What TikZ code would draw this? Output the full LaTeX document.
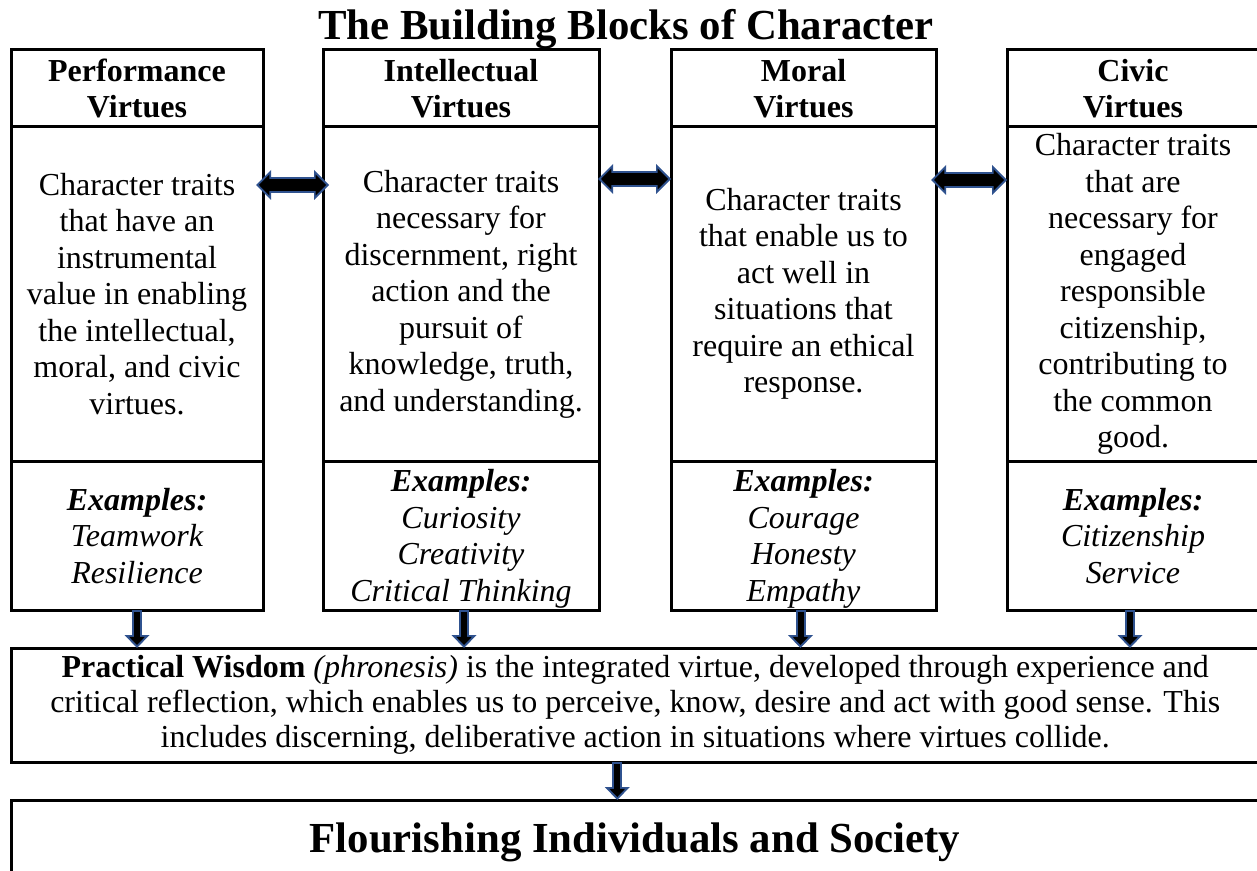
\documentclass[tikz,border=0pt]{standalone}
\usepackage{fontspec}
\setmainfont{Liberation Serif}
\usetikzlibrary{positioning,arrows.meta}
\definecolor{arrowblue}{RGB}{47,82,143}

\begin{document}
\begin{tikzpicture}
  [x=0.5pt,y=-0.5pt,
   every node/.style={inner sep=0pt,outer sep=0pt,align=center,font=\fontsize{16}{18.25}\selectfont},
   cell/.style={draw,line width=1.5pt,minimum width=#1},
   virtuehead/.style={font=\fontsize{16}{18.25}\selectfont\bfseries,minimum height=38.5pt},
   virtuetext/.style={minimum height=167pt},
   virtueex/.style={font=\fontsize{16}{18.25}\selectfont\itshape,minimum height=74.5pt,text depth=0pt},
   dblarrow/.style={draw=black,line width=6pt,shorten <=1.5pt,shorten >=1.5pt,
     {Triangle[width=10.5pt,length=5.2pt,line width=0pt]}-{Triangle[width=10.5pt,length=5.2pt,line width=0pt]},
     preaction={draw=arrowblue,line width=8pt,shorten <=0pt,shorten >=0pt,
       {Triangle[width=15pt,length=7.5pt,line width=0pt]}-{Triangle[width=15pt,length=7.5pt,line width=0pt]}}},
   downarrow/.style={draw=black,line width=3pt,shorten <=1pt,shorten >=1.5pt,
     -{Triangle[width=7.8pt,length=4.05pt,line width=0pt]},
     preaction={draw=arrowblue,line width=5pt,shorten <=0pt,shorten >=0pt,
       -{Triangle[width=12.5pt,length=6.5pt,line width=0pt]}}}]

  \path[use as bounding box,clip] (0,0) rectangle (1257,871);

  \node[font=\fontsize{21.4}{26}\selectfont\bfseries,anchor=base] (title) at (626,40) {The Building Blocks of Character};

  \node[cell=126pt,virtuehead,anchor=north west] (h1) at (11,50) {Performance\\Virtues};
  \node[cell=126pt,virtuetext,below=0pt of h1] (t1) {Character traits\\that have an\\instrumental\\value in enabling\\the intellectual,\\moral, and civic\\virtues.};
  \node[cell=126pt,virtueex,below=0pt of t1] (e1) {\textbf{Examples:}\\Teamwork\\Resilience};

  \node[cell=138pt,virtuehead,anchor=north west] (h2) at (323,50) {Intellectual\\Virtues};
  \node[cell=138pt,virtuetext,below=0pt of h2] (t2) {Character traits\\necessary for\\discernment, right\\action and the\\pursuit of\\knowledge, truth,\\and understanding.};
  \node[cell=138pt,virtueex,below=0pt of t2] (e2) {\textbf{Examples:}\\Curiosity\\Creativity\\Critical Thinking};

  \node[cell=132.5pt,virtuehead,anchor=north west] (h3) at (671,50) {Moral\\Virtues};
  \node[cell=132.5pt,virtuetext,below=0pt of h3] (t3) {Character traits\\that enable us to\\act well in\\situations that\\require an ethical\\response.};
  \node[cell=132.5pt,virtueex,below=0pt of t3] (e3) {\textbf{Examples:}\\Courage\\Honesty\\Empathy};

  \node[cell=126pt,virtuehead,anchor=north west] (h4) at (1007,50) {Civic\\Virtues};
  \node[cell=126pt,virtuetext,below=0pt of h4] (t4) {Character traits\\that are\\necessary for\\engaged\\responsible\\citizenship,\\contributing to\\the common\\good.};
  \node[cell=126pt,virtueex,below=0pt of t4] (e4) {\textbf{Examples:}\\Citizenship\\Service};

  \node[cell=624.25pt,minimum height=57pt,anchor=north west,font=\fontsize{16}{17.5}\selectfont] (pw) at (11,648) {\textbf{Practical Wisdom} \textit{(phronesis)} is the integrated virtue, developed through experience and\\critical reflection, which enables us to perceive, know, desire and act with good sense. This\\includes discerning, deliberative action in situations where virtues collide.};

  \node[cell=624.25pt,minimum height=40pt,anchor=north west] (fl) at (11,800) {};
  \node[font=\fontsize{21.4}{26}\selectfont\bfseries,anchor=base] (fltext) at (635,852) {Flourishing Individuals and Society};

  \draw[dblarrow] ([xshift=-3.5pt,yshift=-29pt]t1.north east) -- ([xshift=3pt,yshift=-29pt]t2.north west);
  \draw[dblarrow] ([xshift=-0.5pt,yshift=-26pt]t2.north east) -- ([yshift=-26pt]t3.north west);
  \draw[dblarrow] ([xshift=-2.5pt,yshift=-26.5pt]t3.north east) -- ([yshift=-26.5pt]t4.north west);

  \draw[downarrow] (e1.south) -- (e1.south |- pw.north);
  \draw[downarrow] ([xshift=1.5pt]e2.south) -- ([xshift=1.5pt]e2.south |- pw.north);
  \draw[downarrow] ([xshift=-1.5pt]e3.south) -- ([xshift=-1.5pt]e3.south |- pw.north);
  \draw[downarrow] ([xshift=-1.5pt]e4.south) -- ([xshift=-1.5pt]e4.south |- pw.north);
  \draw[downarrow] ([xshift=-9pt]pw.south) -- ([xshift=-9pt]pw.south |- fl.north);

\end{tikzpicture}
\end{document}
